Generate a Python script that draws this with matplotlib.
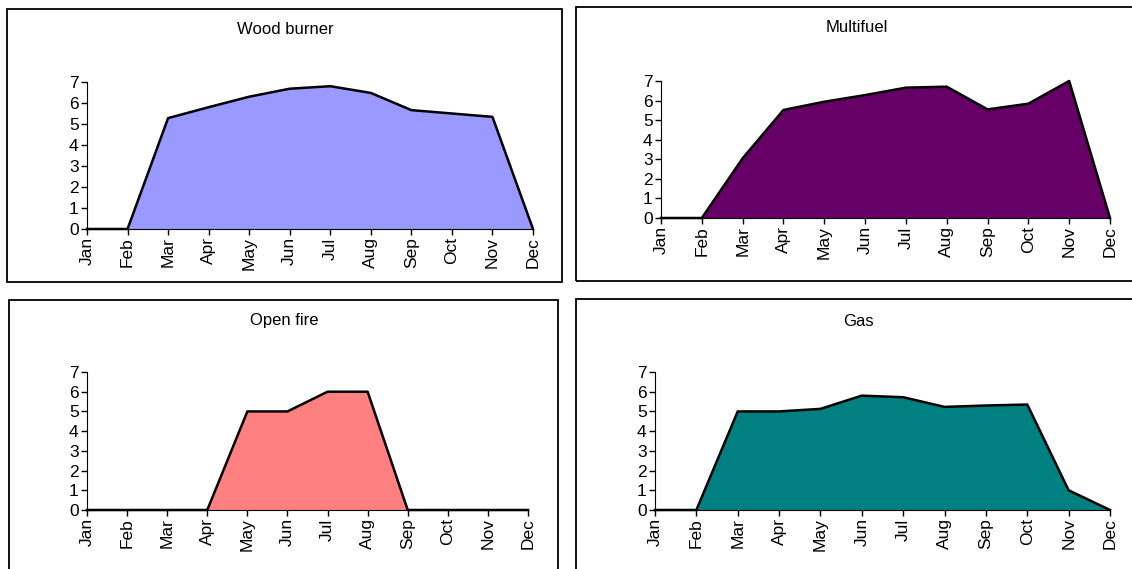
import numpy as np
import matplotlib.pyplot as plt
from matplotlib.patches import Rectangle

plt.rcParams["font.family"] = ["Liberation Sans", "DejaVu Sans"]

meses = ["Jan", "Feb", "Mar", "Apr", "May", "Jun", "Jul", "Aug", "Sep", "Oct", "Nov", "Dec"]

wood_burner = [0, 0, 5.28, 5.8, 6.3, 6.68, 6.8, 6.48, 5.66, 5.5, 5.34, 0]
multifuel = [0, 0, 3.05, 5.52, 5.94, 6.28, 6.66, 6.71, 5.55, 5.84, 7.0, 0]
open_fire = [0, 0, 0, 0, 5, 5, 6, 6, 0, 0, 0, 0]
gas = [0, 0, 5.0, 5.0, 5.13, 5.8, 5.72, 5.23, 5.3, 5.35, 1.0, 0]

titulos = ["Wood burner", "Multifuel", "Open fire", "Gas"]
series = [wood_burner, multifuel, open_fire, gas]
cores = ["#9999FF", "#660066", "#FF8080", "#008080"]

W, H = 1132, 569
fig = plt.figure(figsize=(W / 100, H / 100), dpi=100)

# posicoes em pixels: (esq, dir, topo, base)
eixos_px = [(87, 533, 82, 229), (661, 1110, 81, 218), (87, 528, 372, 510), (655, 1110, 372, 510)]
caixas_px = [(7, 562, 9, 282), (576, 1140, 7, 281), (9, 558, 300, 580), (576, 1140, 299, 580)]
titulos_px = [(285, 30), (857, 28), (284, 320), (858, 321)]


def frac(l, r, t, b):
    return [l / W, 1 - b / H, (r - l) / W, (b - t) / H]


for (l, r, t, b) in caixas_px:
    fig.patches.append(
        Rectangle((l / W, 1 - b / H), (r - l) / W, (b - t) / H,
                  transform=fig.transFigure, fill=False, edgecolor="black", lw=1.3)
    )

x = np.arange(len(meses))
for i in range(4):
    ax = fig.add_axes(frac(*eixos_px[i]))
    ax.fill_between(x, series[i], color=cores[i], lw=0)
    ax.plot(x, series[i], color="black", lw=1.8, clip_on=False, zorder=3)
    ax.set_xlim(0, 11)
    ax.set_ylim(0, 7)
    ax.set_xticks(x)
    ax.set_xticklabels(meses, rotation=90, fontsize=12.5)
    ax.set_yticks(range(8))
    ax.tick_params(axis="y", labelsize=12.5, direction="out", length=4, width=1, pad=2)
    ax.tick_params(axis="x", direction="out", length=4, width=1, pad=2)
    ax.spines["top"].set_visible(False)
    ax.spines["right"].set_visible(False)
    ax.patch.set_alpha(0)
    tx, ty = titulos_px[i]
    fig.text(tx / W, 1 - ty / H, titulos[i], ha="center", va="center", fontsize=12)

fig.savefig("out.png", dpi=100)
